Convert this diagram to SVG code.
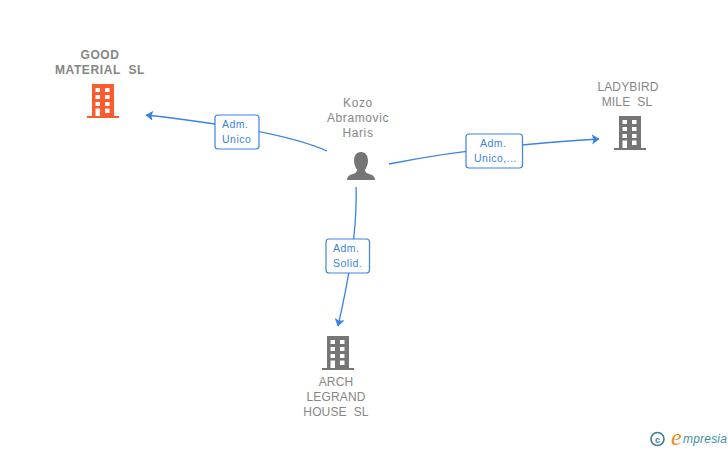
<svg xmlns="http://www.w3.org/2000/svg" width="728" height="450" viewBox="0 0 728 450">
<style>
.n{font:bold 12px "Liberation Sans",Arial,sans-serif;fill:#868686;text-anchor:middle;letter-spacing:.6px}
.g{font:12px "Liberation Sans",Arial,sans-serif;fill:#868686;text-anchor:middle;letter-spacing:.6px}
.u{letter-spacing:.15px}
.l{font:10.500px "Liberation Sans",Arial,sans-serif;fill:#3b7fe0;letter-spacing:.5px}
.c{fill:none;stroke:#3b82e6;stroke-width:1.300}
.b{fill:#fff;stroke:#3b82e6;stroke-width:1.200}
.w{fill:#fff}
</style>
<defs>
<marker id="a" markerWidth="10" markerHeight="12" refX="7" refY="5" orient="auto" markerUnits="userSpaceOnUse"><path d="M0 0L7.500 5L0 10L1.500 5Z" fill="#3b82e6"/></marker>
<g id="bld">
<path d="M5 0H27V32H32V34H0V32H5Z"/>
<g class="w"><rect x="8.500" y="4" width="4.500" height="4"/><rect x="18" y="4" width="4.500" height="4"/><rect x="8.500" y="11" width="4.500" height="4"/><rect x="18" y="11" width="4.500" height="4"/><rect x="8.500" y="18" width="4.500" height="4"/><rect x="18" y="18" width="4.500" height="4"/><rect x="8.500" y="24.500" width="4.500" height="7.500"/><rect x="18" y="24.500" width="4.500" height="4.500"/></g>
</g>
</defs>
<g id="connectors">
<path class="c" marker-end="url(#a)" d="M327 151Q280 130 146 115"/>
<path class="c" marker-end="url(#a)" d="M389 164Q480 146 599 139"/>
<path class="c" marker-end="url(#a)" d="M356 187Q358 240 338 326"/>
</g>
<g id="label1"><rect class="b" x="215" y="115" width="44" height="34" rx="3"/><text class="l" x="222" y="128">Adm.</text><text class="l" x="222" y="143">Unico</text></g>
<g id="label2"><rect class="b" x="466" y="134" width="56.500" height="34" rx="3"/><text class="l" x="480" y="147">Adm.</text><text class="l" x="474" y="162">Unico,...</text></g>
<g id="label3"><rect class="b" x="326" y="239" width="43.500" height="34" rx="3"/><text class="l" x="333" y="252">Adm.</text><text class="l" x="333" y="267">Solid.</text></g>
<g id="kozo"><text class="g" x="358" y="107">Kozo</text><text class="g" x="358" y="122">Abramovic</text><text class="g" x="358" y="137">Haris</text>
<path fill="#757575" d="M361 152C366 152 368 156 368 161C368 165 366 168 365 170C365 173 369 174 372 175C374 176 375 178 375 180H347C347 178 348 176 350 175C353 174 357 173 357 170C356 168 354 165 354 161C354 156 356 152 361 152Z"/></g>
<g id="good"><text class="n" x="100" y="59">GOOD</text><text class="n" x="100" y="74" xml:space="preserve">MATERIAL  SL</text><use href="#bld" x="87" y="84" fill="#ff5a2b"/></g>
<g id="ladybird"><text class="g u" x="628" y="91">LADYBIRD</text><text class="g u" x="627" y="106" xml:space="preserve">MILE  SL</text><use href="#bld" x="614" y="116" fill="#757575"/></g>
<g id="arch"><use href="#bld" x="322" y="336" fill="#757575"/><text class="g u" x="336" y="386">ARCH</text><text class="g u" x="336" y="401">LEGRAND</text><text class="g u" x="336" y="416" xml:space="preserve">HOUSE  SL</text></g>
<g id="logo"><circle cx="657.500" cy="439" r="6.500" fill="none" stroke="#3f7f93" stroke-width="1.600"/><text x="657.500" y="442.500" text-anchor="middle" style="font:bold 9px 'Liberation Sans',sans-serif;fill:#3f7f93">c</text>
<text x="671" y="445" style="font:italic 24px 'Liberation Serif',serif;fill:#f08a1d">e</text><text x="683" y="443" style="font:italic 12px 'Liberation Sans',sans-serif;fill:#3f8f9f;letter-spacing:.2px">mpresia</text></g>
</svg>
